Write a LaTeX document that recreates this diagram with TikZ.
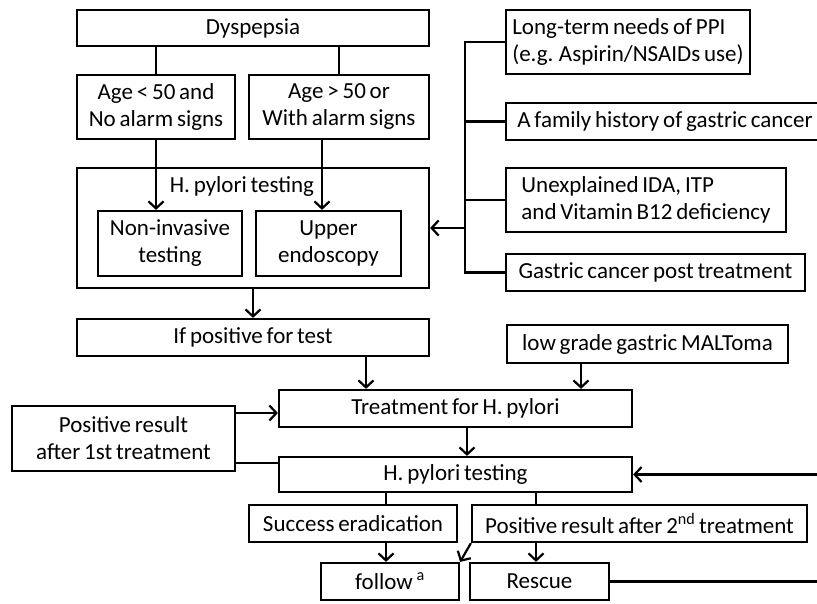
\documentclass[tikz,border=0pt]{standalone}
\usepackage{fontspec}
\setmainfont{Carlito}
\usepackage{tikz}
\usetikzlibrary{arrows.meta}
\newcommand{\boxfont}{\fontsize{23}{27}\selectfont\spaceskip=3.8pt plus 1pt minus 1pt\relax}
\tikzset{
  box/.style={draw, line width=2.2pt, inner sep=0pt, align=center, font=\boxfont},
  link/.style={line width=2.2pt},
  >={Straight Barb[length=7pt,width=15pt]}
}
\begin{document}
\begin{tikzpicture}[x=1pt,y=-1pt]
\useasboundingbox (0,0) rectangle (817,604);
\clip (0,0) rectangle (817,604);

\node [box, minimum width=352pt, minimum height=36pt] (dys) at (253,28) {Dyspepsia};
\node [box, minimum width=158pt, minimum height=64pt] (age1) at (156,107) {Age < 50 and\\No alarm signs};
\node [box, minimum width=180pt, minimum height=64pt] (age2) at (339,107) {Age > 50 or\\With alarm signs};
\node [box, minimum width=352pt, minimum height=120pt] (hpt) at (253,228) {};
\node [font=\boxfont, inner sep=0pt] (hptlab) at (242,186) {H. pylori testing};
\node [box, minimum width=144pt, minimum height=65pt] (noninv) at (170,243.5) {Non-invasive\\testing};
\node [box, minimum width=145pt, minimum height=65pt] (upper) at (328.5,243.5) {Upper\\endoscopy};

\node [box, align=left, minimum width=244pt, minimum height=64pt] (ppi) at (628,42) {Long-term needs of PPI\\(e.g. Aspirin/NSAIDs use)};
\node [box, minimum width=318pt, minimum height=37pt] (fam) at (665,121.5) {A family history of gastric cancer};
\node [box, align=left, minimum width=280pt, minimum height=64pt] (ida) at (646,200) {Unexplained IDA, ITP\\and Vitamin B12 deficiency};
\node [box, minimum width=299pt, minimum height=37pt] (gc) at (655.5,272.5) {Gastric cancer post treatment};
\coordinate (bus) at (465,0);

\node [box, minimum width=352pt, minimum height=37pt] (ifpos) at (253,337.5) {If positive for test};
\node [box, minimum width=281pt, minimum height=38pt] (malt) at (647.5,344) {low grade gastric MALToma};
\node [box, minimum width=353pt, minimum height=37pt] (treat) at (455.5,408.5) {Treatment for H. pylori};
\node [box, minimum width=223pt, minimum height=65pt] (pos1) at (123.5,438.5) {Positive result\\after 1st treatment};
\node [box, minimum width=353pt, minimum height=35pt] (hpt2) at (455.5,474.5) {H. pylori testing};
\node [box, minimum width=208pt, minimum height=37pt] (succ) at (353,523.5) {Success eradication};
\node [box, minimum width=335pt, minimum height=37pt] (pos2) at (639.5,523.5) {Positive result after 2\textsuperscript{nd} treatment};
\node [box, minimum width=138pt, minimum height=37pt] (follow) at (390,581.5) {follow \textsuperscript{a}};
\node [box, minimum width=139pt, minimum height=37pt] (rescue) at (539.5,581.5) {Rescue};
\coordinate (edge) at (840,0);

\draw [link] (dys.south -| age1.north) -- (age1.north);
\draw [link] (dys.south -| age2.north) -- (age2.north);
\draw [link,->] (age1.south) -- (age1.south |- noninv.north);
\draw [link,->] ([xshift=-17pt]age2.south) -- ([xshift=-6.5pt]upper.north);

\draw [link] (ppi.west) -- (ppi.west -| bus) -- (gc.west -| bus) -- (gc.west);
\draw [link] (fam.west) -- (fam.west -| bus);
\draw [link] (ida.west) -- (ida.west -| bus);
\draw [link,->] (hpt.east -| bus) -- (hpt.east);

\draw [link,->] (hpt.south) -- (ifpos.north);
\draw [link,->] ([xshift=113pt]ifpos.south) -- ([xshift=-89.5pt]treat.north);
\draw [link,->] ([xshift=-66.5pt]malt.south) -- ([xshift=125.5pt]treat.north);
\draw [link,->] ([yshift=25.5pt]pos1.east) -- ([yshift=-4.5pt]treat.west);
\draw [link] ([yshift=-24.5pt]pos1.east) -- ([yshift=11.5pt]hpt2.west);
\draw [link,->] ([xshift=11.5pt]treat.south) -- ([xshift=11.5pt]hpt2.north);
\draw [link,->] (rescue.east) -- (rescue.east -| edge) -- (hpt2.east -| edge) -- (hpt2.east);

\draw [link] ([xshift=-69.5pt]hpt2.south) -- ([xshift=33pt]succ.north);
\draw [link] ([xshift=80.5pt]hpt2.south) -- ([xshift=-103.5pt]pos2.north);
\draw [link,->] ([xshift=33pt]succ.south) -- ([xshift=-4pt]follow.north);
\draw [link,->] ([xshift=-103.5pt]pos2.south) -- ([xshift=-3.5pt]rescue.north);
\draw [link,->] (pos2.south west) -- (follow.north east);
\end{tikzpicture}
\end{document}
